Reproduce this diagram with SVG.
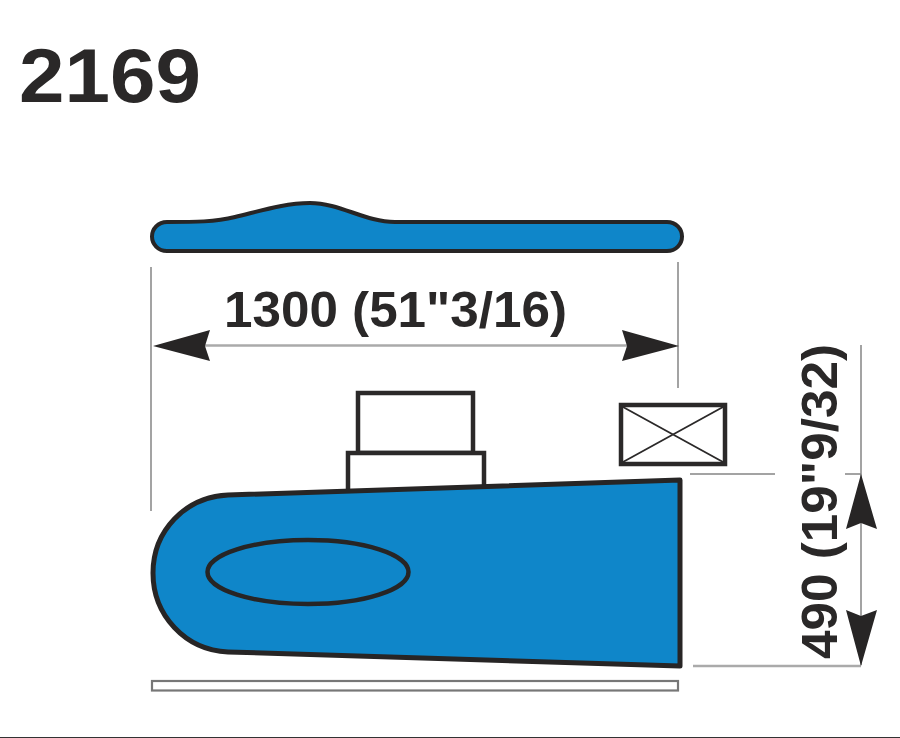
<svg xmlns="http://www.w3.org/2000/svg" width="900" height="738" viewBox="0 0 900 738">
<style>
.t{font-family:"Liberation Sans",Arial,sans-serif;font-weight:700;fill:#2a2828}
.blue{fill:#0f86c9;stroke:#272525;stroke-linejoin:round}
.box{fill:#fff;stroke:#2b2929;stroke-width:4.500}
.dim{stroke:#858585;fill:none}
.head{fill:#272525}
</style>
<rect width="900" height="738" fill="#fff"/>
<text class="t" x="19" y="102" font-size="76" textLength="182" lengthAdjust="spacingAndGlyphs">2169</text>
<g id="top-view">
<path class="blue" stroke-width="4" d="M167 222 C195 222 215 222 235 217 C260 211 285 203 310 203 C340 203 365 222 395 222 L667 222 C676 222 682 229 682 236.500 C682 244 676 251 667 251 L167 251 C158 251 152 244 152 236.500 C152 229 158 222 167 222 Z"/>
</g>
<g id="connectors">
<path class="dim" stroke-width="1.500" d="M151 267V511M678 262V388M861 345V474M861 474V665M690 474H775M845 474H861"/>
<path class="dim" stroke-width="2.500" style="stroke:#aaa" d="M693 666H861M205 345.500H630"/>
<path class="head" d="M153 346L210 330L205 346L210 361Z"/>
<path class="head" d="M679 346L622 330L627 346L622 361Z"/>
<path class="head" d="M861 474L877 529L861 523L846 529Z"/>
<path class="head" d="M861 666L877 610L861 616L846 610Z"/>
</g>
<g id="upper-box"><rect class="box" x="358" y="393" width="115" height="60"/></g>
<g id="lower-box"><rect class="box" x="348" y="453" width="136" height="40"/></g>
<g id="crossed-box">
<rect class="box" x="621" y="405" width="104" height="59"/>
<path d="M623 407L723 462M723 407L623 462" stroke="#2b2929" stroke-width="1.800"/>
</g>
<g id="main-body">
<path class="blue" stroke-width="5" d="M228 495 L680 480 L680 666 L228 652 C185 650 153 615 153 573 C153 531 185 497 228 495 Z"/>
<ellipse cx="308" cy="572" rx="100.500" ry="32" fill="none" stroke="#272525" stroke-width="4.500"/>
</g>
<g id="base-plate"><rect x="152" y="681" width="526" height="9.500" fill="#fff" stroke="#777" stroke-width="2.200"/></g>
<text class="t" x="224" y="326.500" font-size="50" textLength="343" lengthAdjust="spacingAndGlyphs">1300 (51"3/16)</text>
<text class="t" transform="translate(836.500 659) rotate(-90)" font-size="50" textLength="315" lengthAdjust="spacingAndGlyphs">490 (19"9/32)</text>
<rect x="0" y="737" width="900" height="1" fill="#333"/>
</svg>
